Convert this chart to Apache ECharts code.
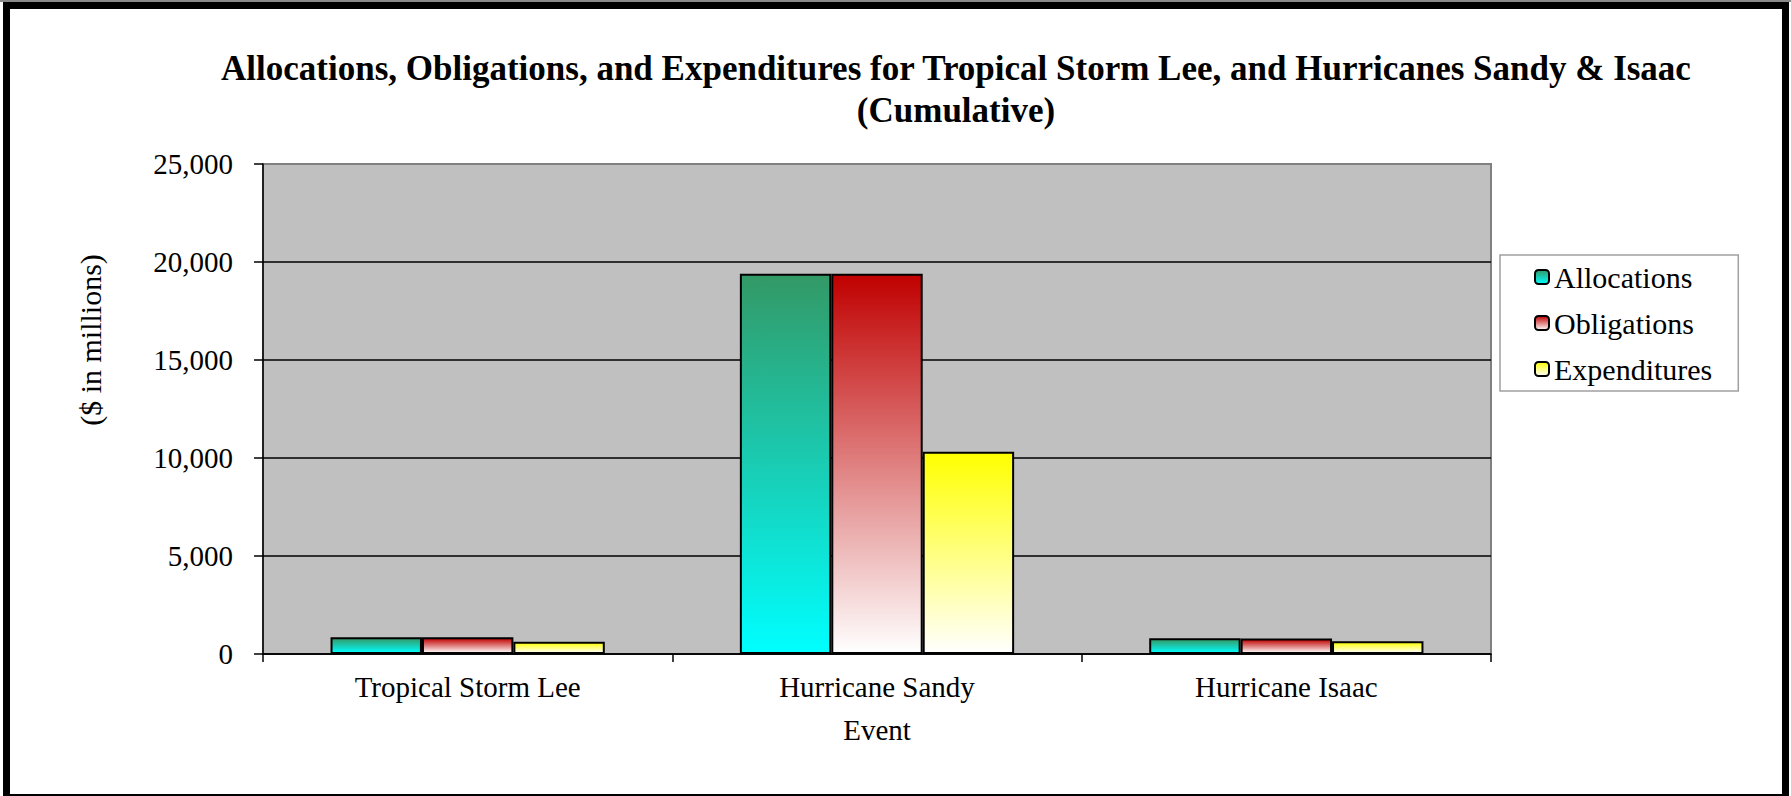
<!DOCTYPE html>
<html><head><meta charset="utf-8">
<script src="https://cdn.jsdelivr.net/npm/echarts@6/dist/echarts.min.js"></script>
<style>html,body{margin:0;padding:0;background:#fff}#c{width:1791px;height:796px}</style>
</head><body><div id="c"></div><script>
const categories = ['Tropical Storm Lee', 'Hurricane Sandy', 'Hurricane Isaac'];
const seriesNames = ['Allocations', 'Obligations', 'Expenditures'];
const allocations = [850, 19400, 800];
const obligations = [850, 19400, 790];
const expenditures = [630, 10320, 650];
const yMin = 0, yMax = 25000, yStep = 5000;
const titleText = 'Allocations, Obligations, and Expenditures for Tropical Storm Lee, and Hurricanes Sandy & Isaac\n(Cumulative)';
const yName = '($ in millions)';
const xName = 'Event';

const FONT = "'Liberation Serif','Times New Roman',Times,serif";
function grad(top, bottom) {
  return {type: 'linear', x: 0, y: 0, x2: 0, y2: 1,
    colorStops: [{offset: 0, color: top}, {offset: 1, color: bottom}]};
}
const fills = [grad('#339966', '#00FFFF'), grad('#C00000', '#FFFFFF'), grad('#FFFF00', '#FFFFFF')];
const dataSets = [allocations, obligations, expenditures];

const chart = echarts.init(document.getElementById('c'), null, {renderer: 'svg'});
chart.setOption({
  backgroundColor: '#ffffff',
  animation: false,
  title: {
    text: titleText,
    left: 956, top: 47, padding: 0,
    textAlign: 'center',
    textStyle: {fontFamily: FONT, fontSize: 35, fontWeight: 'bold', color: '#000', lineHeight: 42}
  },
  legend: {
    orient: 'vertical', left: 1500, top: 255,
    backgroundColor: '#ffffff', borderColor: '#A0A0A0', borderWidth: 1.5,
    padding: [7, 26, 7, 34], itemGap: 16, itemWidth: 14, itemHeight: 14,
    textStyle: {fontFamily: FONT, fontSize: 30, color: '#000', lineHeight: 30},
    data: seriesNames
  },
  grid: {
    left: 263, right: 300, top: 164, bottom: 142, show: true,
    backgroundColor: '#C0C0C0', borderColor: '#808080', borderWidth: 2
  },
  xAxis: {
    type: 'category', data: categories,
    name: xName, nameLocation: 'middle', nameGap: 61,
    nameTextStyle: {fontFamily: FONT, fontSize: 29, color: '#000'},
    axisLine: {lineStyle: {color: '#000', width: 1.5}},
    axisTick: {show: true, length: 8, lineStyle: {color: '#000', width: 1.5}},
    axisLabel: {fontFamily: FONT, fontSize: 29, color: '#000', margin: 18},
    splitLine: {show: false}
  },
  yAxis: {
    type: 'value', min: yMin, max: yMax, interval: yStep,
    name: yName, nameLocation: 'middle', nameGap: 158, nameRotate: 90,
    nameTextStyle: {fontFamily: FONT, fontSize: 30, color: '#000', padding: [0, 0, 0, 138]},
    axisLine: {show: true, lineStyle: {color: '#000', width: 1.5}},
    axisTick: {show: true, length: 9, lineStyle: {color: '#000', width: 1.5}},
    axisLabel: {fontFamily: FONT, fontSize: 29, color: '#000', margin: 30,
      formatter: v => v.toLocaleString('en-US')},
    splitLine: {show: true, lineStyle: {color: ['#000', '#000', '#000', '#000', '#000', '#808080'], width: 1.5}}
  },
  graphic: [
    {type: 'rect', z: 100, silent: true, shape: {x: 6.5, y: 5.5, width: 1779, height: 792},
      style: {fill: 'none', stroke: '#000', lineWidth: 7}},
    {type: 'line', z: 101, silent: true, shape: {x1: 0, y1: 1, x2: 1791, y2: 1},
      style: {stroke: '#8a8a8a', lineWidth: 2}}
  ],
  series: seriesNames.map((n, i) => ({
    name: n, type: 'bar', data: dataSets[i],
    barGap: '0%', barCategoryGap: '33%',
    itemStyle: {color: fills[i], borderColor: '#000', borderWidth: 2}
  }))
});
</script></body></html>
